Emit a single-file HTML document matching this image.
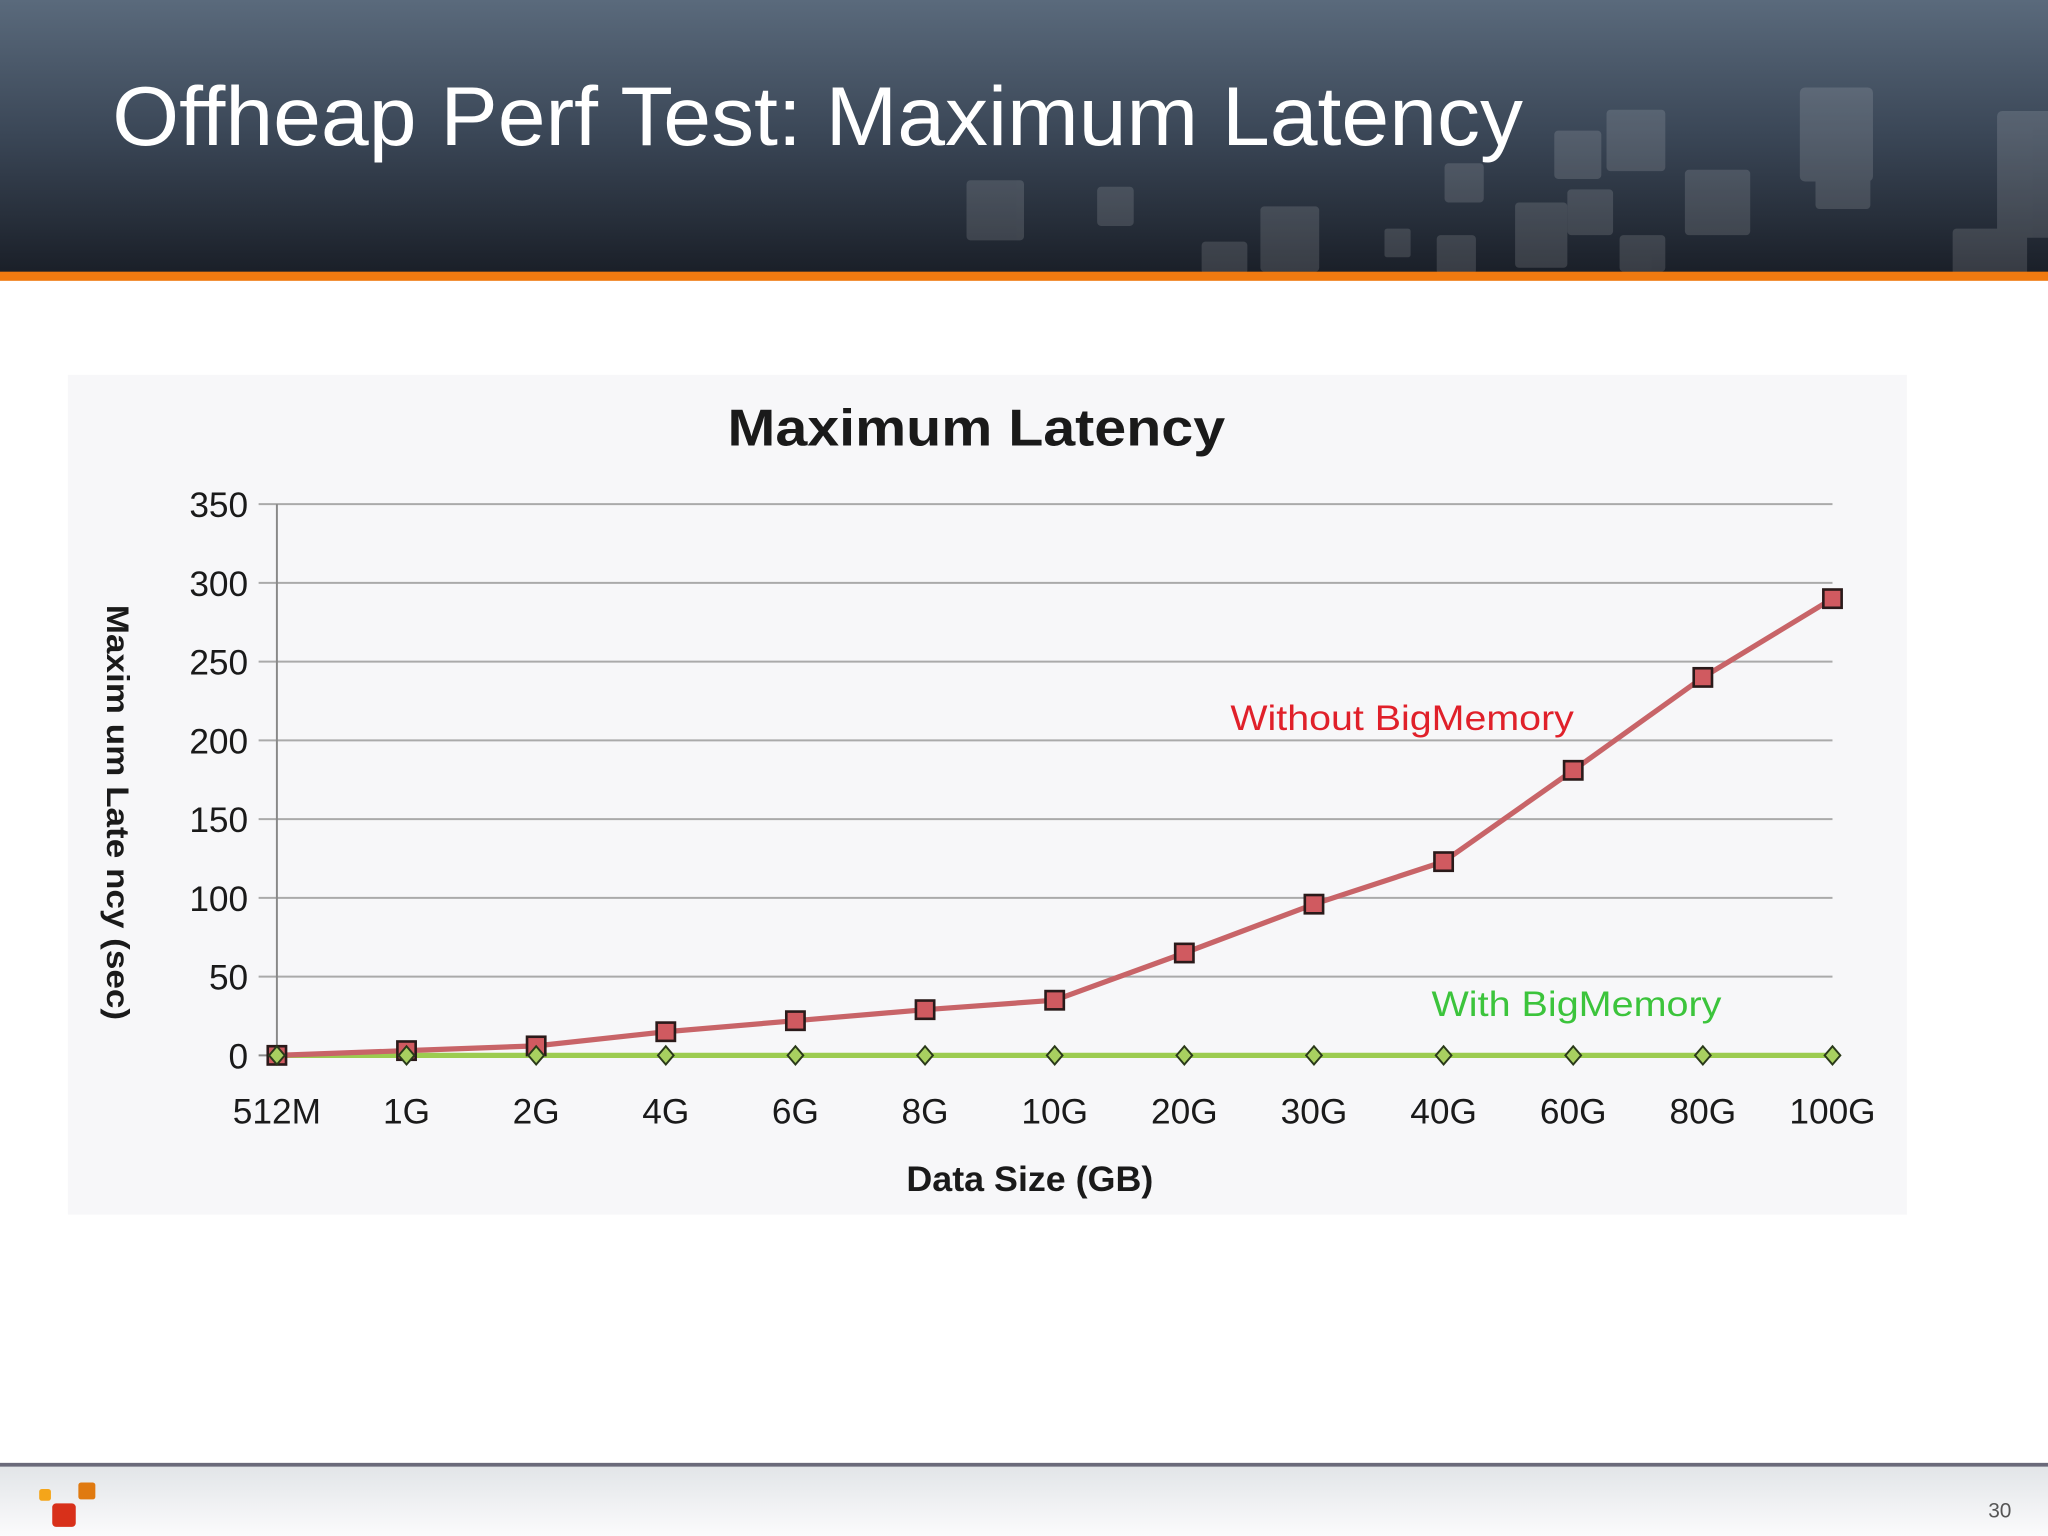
<!DOCTYPE html>
<html><head><meta charset="utf-8"><style>
html,body{margin:0;padding:0;background:#fff}
svg{display:block}
text{font-family:"Liberation Sans",sans-serif}
</style></head><body>
<svg width="2048" height="1536" viewBox="0 0 1568 1176" xmlns="http://www.w3.org/2000/svg">
<defs>
<linearGradient id="hdr" x1="0" y1="0" x2="0" y2="1"><stop offset="0" stop-color="#5a6a7c"/><stop offset="0.5" stop-color="#3a4656"/><stop offset="1" stop-color="#1a1f28"/></linearGradient>
<linearGradient id="ftr" x1="0" y1="0" x2="0" y2="1"><stop offset="0" stop-color="#e2e5e8"/><stop offset="1" stop-color="#fbfbfc"/></linearGradient>
</defs>
<rect x="0" y="0" width="1568" height="209" fill="url(#hdr)"/>
<g fill="#ffffff" opacity="0.13">
<rect x="1529" y="85" width="53" height="97" rx="4"/><rect x="1378" y="67" width="56" height="72" rx="4"/><rect x="1230" y="84" width="45" height="47" rx="3"/><rect x="1190" y="100" width="36" height="37" rx="3"/><rect x="1495" y="175" width="57" height="65" rx="3"/><rect x="1390" y="120" width="42" height="40" rx="3"/><rect x="1290" y="130" width="50" height="50" rx="3"/><rect x="1160" y="155" width="40" height="50" rx="3"/><rect x="1100" y="180" width="30" height="30" rx="3"/><rect x="1060" y="175" width="20" height="22" rx="2"/><rect x="965" y="158" width="45" height="50" rx="3"/><rect x="920" y="185" width="35" height="25" rx="3"/><rect x="840" y="143" width="28" height="30" rx="3"/><rect x="740" y="138" width="44" height="46" rx="3"/><rect x="1240" y="180" width="35" height="28" rx="3"/><rect x="1200" y="145" width="35" height="35" rx="3"/><rect x="1106" y="125" width="30" height="30" rx="3"/>
</g>
<text x="86" y="111" font-size="64" fill="#ffffff" textLength="1080" lengthAdjust="spacingAndGlyphs">Offheap Perf Test: Maximum Latency</text>
<rect x="0" y="208" width="1568" height="7" fill="#f07a10"/>
<rect x="52" y="287" width="1408" height="643" fill="#f7f7f9"/>
<text x="557" y="341" font-size="40" font-weight="bold" fill="#1a1a1a" textLength="381" lengthAdjust="spacingAndGlyphs">Maximum  Latency</text>
<g id="plot"></g>
<text transform="translate(82,622) rotate(90)" font-size="24" font-weight="bold" fill="#1a1a1a" text-anchor="middle" textLength="318" lengthAdjust="spacingAndGlyphs">Maxim um Late ncy (sec)</text>
<text x="694" y="912" font-size="27" font-weight="bold" fill="#1a1a1a" textLength="189" lengthAdjust="spacingAndGlyphs">Data Size (GB)</text>
<text x="942" y="559" font-size="27" fill="#e0202a" textLength="263" lengthAdjust="spacingAndGlyphs">Without BigMemory</text>
<text x="1096" y="778" font-size="27" fill="#3cc43c" textLength="222" lengthAdjust="spacingAndGlyphs">With BigMemory</text>
<rect x="0" y="1120" width="1568" height="3" fill="#6a6a7a"/>
<rect x="0" y="1123" width="1568" height="53" fill="url(#ftr)"/>
<g>
<rect x="30" y="1140" width="9" height="9" rx="2" fill="#f4a51a"/>
<rect x="60" y="1135" width="13" height="13" rx="2" fill="#e07a10"/>
<rect x="40" y="1151" width="18" height="18" rx="3" fill="#d8301a"/>
</g>
<text x="1540" y="1162" font-size="16" fill="#555" text-anchor="end">30</text>
</svg>
<script>
const categories=["512M","1G","2G","4G","6G","8G","10G","20G","30G","40G","60G","80G","100G"];
const withoutBig=[0,3,6,15,22,29,35,65,96,123,181,240,290];
const withBig=[0,0,0,0,0,0,0,0,0,0,0,0,0];
const yTicks=[0,50,100,150,200,250,300,350];
const NS="http://www.w3.org/2000/svg";
const g=document.getElementById('plot');
const x0=212,x1=1403,y0=808,y1=386,ymax=350;
const xs=i=>x0+(x1-x0)*i/(categories.length-1);
const ys=v=>y0-(y0-y1)*v/ymax;
function el(t,a){const e=document.createElementNS(NS,t);for(const k in a)e.setAttribute(k,a[k]);g.appendChild(e);return e;}
yTicks.forEach(v=>{
 const l=el('line',{x1:x0-14,x2:x1,y1:ys(v),y2:ys(v),stroke:v===0?'#888':'#aaa','stroke-width':1.5});
 
 
 const t=el('text',{x:190,y:ys(v)+10,'font-size':27,'text-anchor':'end',fill:'#1a1a1a'});
 t.textContent=v;
 
 
});
const ax=el('line',{x1:x0,x2:x0,y1:y1,y2:y0+6,stroke:'#888','stroke-width':1.5});


categories.forEach((c,i)=>{
 const t=el('text',{x:xs(i),y:860,'font-size':27,'text-anchor':'middle',fill:'#1a1a1a'});
 t.textContent=c;
 
 
});
const gl=el('polyline',{points:withBig.map((v,i)=>xs(i)+','+ys(v)).join(' '),fill:'none',stroke:'#9ccc50','stroke-width':4});


const rl=el('polyline',{points:withoutBig.map((v,i)=>xs(i)+','+ys(v)).join(' '),fill:'none',stroke:'#c86468','stroke-width':4});


withoutBig.forEach((v,i)=>{
 const r=el('rect',{x:xs(i)-7,y:ys(v)-7,width:14,height:14,fill:'#d05a60',stroke:'#2a1a1a','stroke-width':2});
 
 
});
withBig.forEach((v,i)=>{
 const x=xs(i),y=ys(v);
 const p=el('polygon',{points:`${x},${y-7} ${x+6},${y} ${x},${y+7} ${x-6},${y}`,fill:'#a8d060',stroke:'#2a3a1a','stroke-width':1.5});
 
 
});
</script>
</body></html>
